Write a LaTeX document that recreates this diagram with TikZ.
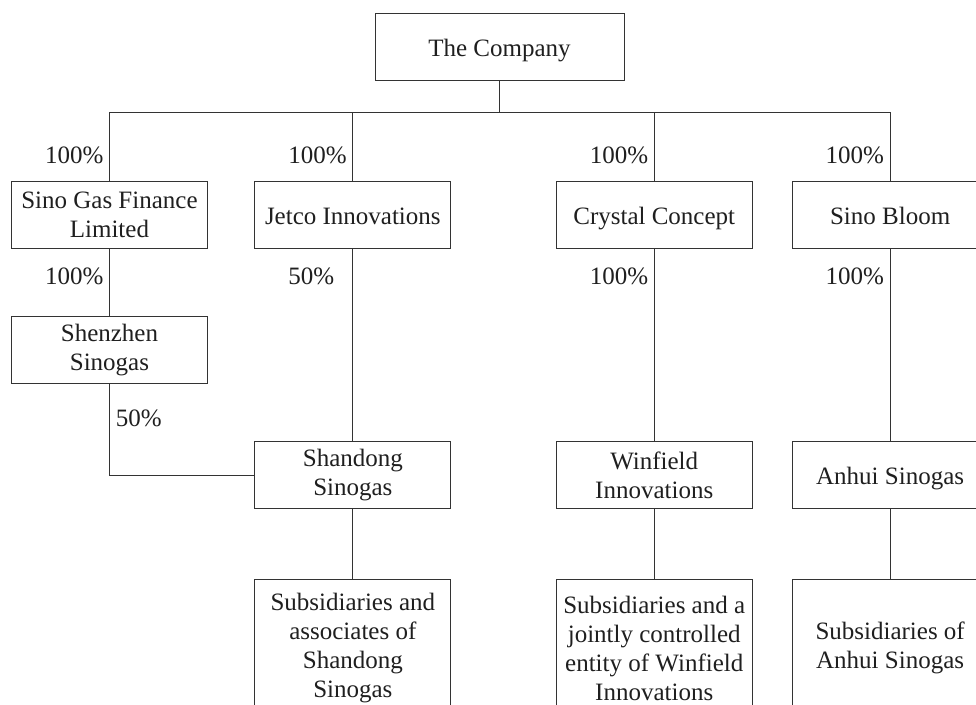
\documentclass[tikz,border=0pt]{standalone}
\usepackage{fontspec}
\setmainfont{Liberation Serif}
\usepackage{tikz}
\usetikzlibrary{matrix}
\definecolor{ink}{HTML}{333333}

\begin{document}
\begin{tikzpicture}[x=1pt, y=-1pt, font=\fontsize{25}{29}\selectfont, text=black!88,
  firm/.style={draw=ink, line width=0.9pt, minimum width=196pt, minimum height=67pt, align=center, inner sep=2pt, outer sep=0pt, anchor=center},
  oneline/.style={text height=20pt, text depth=1pt},
  share/.style={left, text width=58pt, align=left, inner xsep=6pt, inner ysep=2pt},
  link/.style={draw=ink, line width=0.9pt}]
\useasboundingbox (0,0) rectangle (976,704);
\node[firm, oneline, minimum width=249pt](company) at (499.5,46.5){The Company};
\matrix (m) [anchor=north west, inner sep=0pt, outer sep=0pt, column sep=41pt, row sep=57pt] at (11,181) {
\node[firm](sgf){Sino Gas Finance\\Limited}; &[5.5pt] \node[firm, oneline](jetco){Jetco Innovations}; &[63.5pt] \node[firm, oneline](crystal){Crystal Concept}; &[-2pt] \node[firm, oneline](bloom){Sino Bloom}; \\[10.5pt]
\node[firm](shenzhen){Shenzhen\\Sinogas}; & & & \\
 & \node[firm](shandong){Shandong\\Sinogas}; & \node[firm](winfield){Winfield\\Innovations}; & \node[firm, oneline](anhui){Anhui Sinogas}; \\[12.5pt]
 & \node[firm, minimum height=138pt](subshd){Subsidiaries and\\associates of\\Shandong\\Sinogas}; & \node[firm, minimum height=138pt](subwin){Subsidiaries and a\\jointly controlled\\entity of Winfield\\Innovations}; & \node[firm, minimum height=138pt](subanh){Subsidiaries of\\Anhui Sinogas}; \\
};
\coordinate (hub) at ([yshift=-32pt]company.south);
\draw[link] (company) -- (hub);
\draw[link] (hub) -| (sgf.north) node[share, pos=.81]{100\%};
\draw[link] (hub) -| (jetco.north) node[share, pos=.81]{100\%};
\draw[link] (hub) -| (crystal.north) node[share, pos=.81]{100\%};
\draw[link] (hub) -| (bloom.north) node[share, pos=.81]{100\%};
\draw[link] (sgf) -- (shenzhen) node[share, pos=.41]{100\%};
\draw[link] (jetco) -- (shandong) node[share, pos=.146]{50\%};
\draw[link] (crystal) -- (winfield) node[share, pos=.146]{100\%};
\draw[link] (bloom) -- (anhui) node[share, pos=.146]{100\%};
\draw[link] (shenzhen) |- (shandong.west) node[right, inner xsep=6pt, pos=.19]{50\%};
\draw[link] (shandong) -- (subshd);
\draw[link] (winfield) -- (subwin);
\draw[link] (anhui) -- (subanh);
\end{tikzpicture}
\end{document}
